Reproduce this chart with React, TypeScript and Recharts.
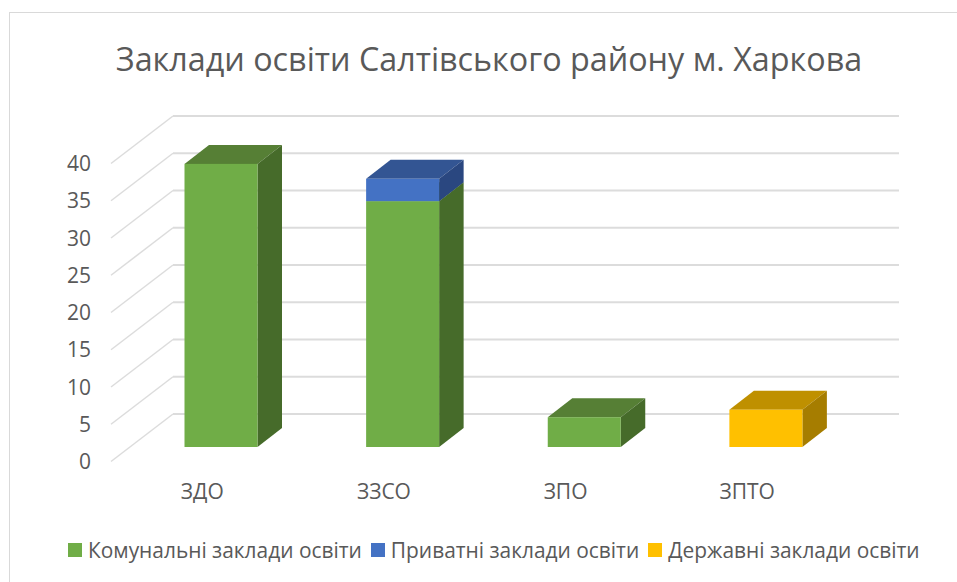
import { BarChart, Bar, XAxis, YAxis, CartesianGrid, Legend } from 'recharts'

const categories = ['ЗДО', 'ЗЗСО', 'ЗПО', 'ЗПТО']
const communal = [38, 33, 4, 0]
const privateSchools = [0, 3, 0, 0]
const stateSchools = [0, 0, 0, 5]
const yTicks = [0, 5, 10, 15, 20, 25, 30, 35, 40]

const data = categories.map((name, i) => ({
  name,
  communal: communal[i],
  privateSchools: privateSchools[i],
  stateSchools: stateSchools[i],
}))

const FONT = '"Open Sans", "Noto Sans", sans-serif'
const TEXT = '#595959'
const GRID = '#dcdcdc'

// 3d look
const DEPTH_X = 24.5
const DEPTH_Y = 19

function Box(props: any) {
  const { x, y, width, height, fill, topFill, sideFill } = props
  if (!height || height <= 0) return null
  const r = x + width
  const b = y + height
  return (
    <g>
      <path
        d={`M${x},${y} L${x + DEPTH_X},${y - DEPTH_Y} L${r + DEPTH_X},${y - DEPTH_Y} L${r},${y} Z`}
        fill={topFill}
      />
      <path
        d={`M${r},${y} L${r + DEPTH_X},${y - DEPTH_Y} L${r + DEPTH_X},${b - DEPTH_Y} L${r},${b} Z`}
        fill={sideFill}
      />
      <rect x={x} y={y} width={width} height={height} fill={fill} />
    </g>
  )
}

function GridLine(props: any) {
  const { y1 } = props
  return (
    <g key={`grid-${y1}`}>
      <line x1={111} y1={y1 + 14.5} x2={173} y2={y1 - 33} stroke={GRID} strokeWidth={1.5} />
      <line x1={173} y1={y1 - 33} x2={899} y2={y1 - 33} stroke={GRID} strokeWidth={2.2} />
    </g>
  )
}

function YTick(props: any) {
  const { y, payload } = props
  return (
    <text x={91} y={y + 14.5} dy={7.5} textAnchor="end" fontSize={21} fontFamily={FONT} fill={TEXT}>
      {payload.value}
    </text>
  )
}

function XTick(props: any) {
  const { x, payload } = props
  return (
    <text x={x - 19} y={499} textAnchor="middle" fontSize={21} fontFamily={FONT} fill={TEXT}>
      {payload.value}
    </text>
  )
}

function LegendRow(props: any) {
  return (
    <div style={{ display: 'flex', justifyContent: 'flex-start', paddingLeft: 68, gap: 9 }}>
      {props.payload.map((item: any) => (
        <div key={item.value} style={{ display: 'flex', alignItems: 'center', gap: 6 }}>
          <span style={{ width: 14, height: 14, background: item.color, display: 'inline-block' }} />
          <span style={{ fontFamily: FONT, fontSize: 20.9, color: TEXT, lineHeight: '26px', whiteSpace: 'nowrap' }}>
            {item.value}
          </span>
        </div>
      ))}
    </div>
  )
}

export default function App() {
  return (
    <div style={{ position: 'absolute', left: 0, top: 0, width: 957, height: 582, background: '#fff', overflow: 'hidden' }}>
      <div style={{ position: 'absolute', left: 9, top: 12, width: 960, height: 600, borderTop: '1px solid #d9d9d9', borderLeft: '1.5px solid #d9d9d9' }} />
      <BarChart
        width={957}
        height={582}
        data={data}
        margin={{ top: 123, right: 100, bottom: 134, left: 129.5 }}
        barSize={73}
      >
        <text x={489} y={71} textAnchor="middle" fontSize={32.3} fontFamily={FONT} fill={TEXT}>
          Заклади освіти Салтівського району м. Харкова
        </text>
        <CartesianGrid vertical={false} horizontal={(p: any) => <GridLine {...p} />} />
        <XAxis dataKey="name" axisLine={false} tickLine={false} tick={<XTick />} height={1} />
        <YAxis domain={[0, 40]} ticks={yTicks} axisLine={false} tickLine={false} tick={<YTick />} width={1} />
        <Legend
          verticalAlign="top"
          itemSorter={null as any}
          wrapperStyle={{ left: 0, top: 537, width: 957 }}
          content={<LegendRow />}
        />
        <Bar
          dataKey="communal"
          name="Комунальні заклади освіти"
          stackId="a"
          fill="#70ad47"
          isAnimationActive={false}
          shape={(p: any) => <Box {...p} topFill="#567f35" sideFill="#466b2a" />}
        />
        <Bar
          dataKey="privateSchools"
          name="Приватні заклади освіти"
          stackId="a"
          fill="#4472c4"
          isAnimationActive={false}
          shape={(p: any) => <Box {...p} topFill="#335593" sideFill="#2a4780" />}
        />
        <Bar
          dataKey="stateSchools"
          name="Державні заклади освіти"
          stackId="a"
          fill="#ffc000"
          isAnimationActive={false}
          shape={(p: any) => <Box {...p} topFill="#bf9000" sideFill="#a67d00" />}
        />
      </BarChart>
    </div>
  )
}
